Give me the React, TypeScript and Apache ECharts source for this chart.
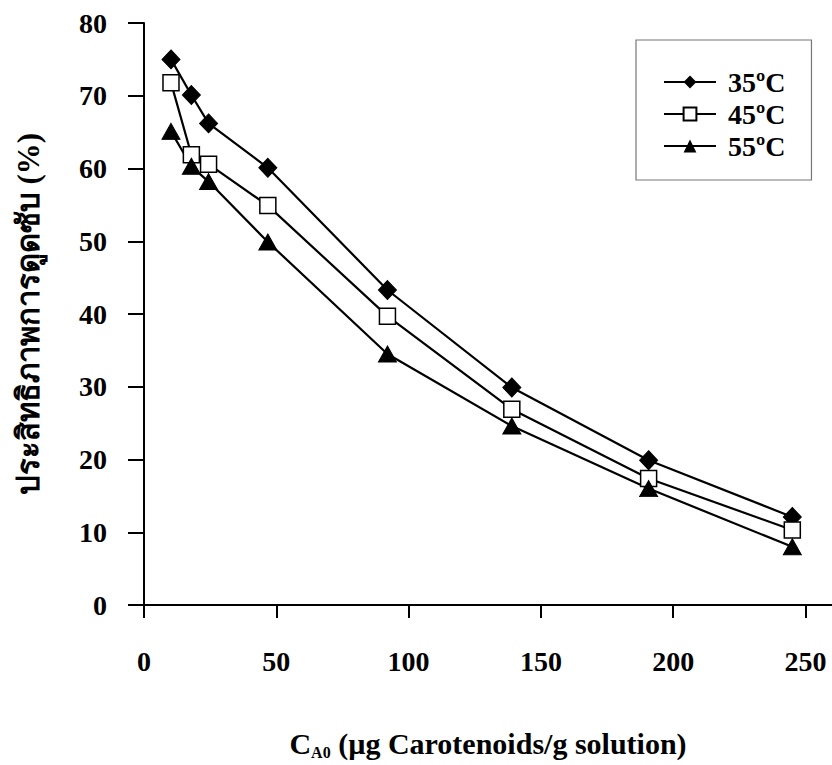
import React, { useEffect, useRef } from "react";
import * as echarts from "echarts";

const xValues = [10.2, 17.9, 24.4, 46.8, 92.0, 139.0, 190.7, 245.0];
const s35 = [75.0, 70.1, 66.2, 60.1, 43.3, 29.9, 19.9, 12.1];
const s45 = [71.8, 61.9, 60.6, 54.9, 39.7, 26.9, 17.4, 10.3];
const s55 = [65.1, 60.3, 58.2, 49.9, 34.5, 24.6, 16.0, 8.0];
const seriesNames = ["35ºC", "45ºC", "55ºC"];
const xTicks = [0, 50, 100, 150, 200, 250];

const FONT = "'Liberation Serif', 'Times New Roman', serif";

export default function App() {
  const ref = useRef<HTMLDivElement>(null);
  useEffect(() => {
    if (!ref.current) return;
    const chart = echarts.init(ref.current, null, { renderer: "svg" });
    const mk = (arr: number[]) => xValues.map((x, i) => [x, arr[i]]);
    const base = {
      type: "line",
      lineStyle: { color: "#000", width: 2.2 },
      z: 3,
    };
    chart.setOption({
      animation: false,
      backgroundColor: "#fff",
      grid: { left: 144, right: 0, top: 23, bottom: 156, containLabel: false },
      legend: {
        left: 636,
        top: 40,
        orient: "vertical",
        itemWidth: 52,
        itemHeight: 16,
        itemGap: 4,
        padding: [28, 26, 20, 27],
        borderColor: "#777",
        borderWidth: 1.2,
        textStyle: {
          fontFamily: FONT,
          fontWeight: "bold",
          fontSize: 28,
          color: "#000",
          lineHeight: 24,
          padding: [0, 0, 0, 7],
        },
        data: seriesNames,
      },
      xAxis: {
        type: "value",
        min: 0,
        max: 260,
        interval: 50,
        axisLine: { show: true, onZero: false, lineStyle: { color: "#000", width: 2 } },
        axisTick: { show: true, length: 13, lineStyle: { color: "#000", width: 2 }, customValues: xTicks },
        axisLabel: {
          margin: 42,
          customValues: xTicks,
          fontFamily: FONT,
          fontWeight: "bold",
          fontSize: 28,
          color: "#000",
        },
        splitLine: { show: false },
        name: "{c|C}{sub|A0}{t| (µg Carotenoids/g solution)}",
        nameLocation: "middle",
        nameGap: 122,
        nameTextStyle: {
          rich: {
            c: { fontFamily: FONT, fontWeight: "bold", fontSize: 30, color: "#000" },
            sub: { fontFamily: FONT, fontWeight: "bold", fontSize: 16, color: "#000", padding: [17, 0, 0, 0] },
            t: { fontFamily: FONT, fontWeight: "bold", fontSize: 30, color: "#000" },
          },
        },
      },
      yAxis: {
        type: "value",
        min: 0,
        max: 80,
        interval: 10,
        axisLine: { show: true, lineStyle: { color: "#000", width: 2 } },
        axisTick: { show: true, length: 16, lineStyle: { color: "#000", width: 2 } },
        axisLabel: {
          margin: 37,
          fontFamily: FONT,
          fontWeight: "bold",
          fontSize: 28,
          color: "#000",
        },
        splitLine: { show: false },
        name: "ประสิทธิภาพการดูดซับ (%)",
        nameLocation: "middle",
        nameGap: 100,
        nameTextStyle: { fontFamily: FONT, fontWeight: "bold", fontSize: 31, color: "#000" },
      },
      series: [
        {
          ...base,
          name: seriesNames[0],
          data: mk(s35),
          symbol: "diamond",
          symbolSize: [18, 19],
          itemStyle: { color: "#000", borderColor: "#000" },
        },
        {
          ...base,
          name: seriesNames[1],
          data: mk(s45),
          symbol: "rect",
          symbolSize: 16,
          itemStyle: { color: "#fff", borderColor: "#000", borderWidth: 1.5 },
        },
        {
          ...base,
          name: seriesNames[2],
          data: mk(s55),
          symbol: "triangle",
          symbolSize: [18, 16],
          itemStyle: { color: "#000", borderColor: "#000" },
        },
      ],
    });
    return () => chart.dispose();
  }, []);
  return (
    <div
      ref={ref}
      style={{ position: "absolute", left: 0, top: 0, width: 832, height: 765 }}
    />
  );
}
